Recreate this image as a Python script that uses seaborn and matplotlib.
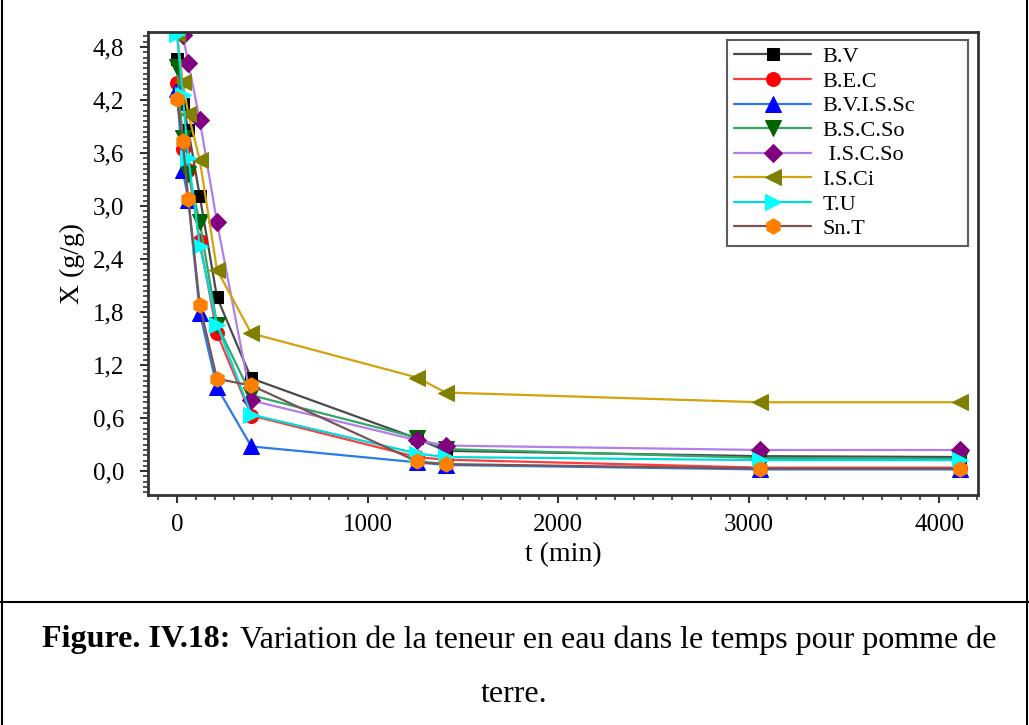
import matplotlib
matplotlib.use("Agg")
import matplotlib.pyplot as plt
from matplotlib.lines import Line2D
from matplotlib.ticker import MultipleLocator, FuncFormatter
import pandas as pd
import seaborn as sns

# drying times (min)
t_all = [0, 30, 60, 120, 210, 390, 1260, 1410, 3060, 4110]
t_iscso = [30, 60, 120, 210, 390, 1260, 1410, 3060, 4110]

bv = [4.66, 4.16, 3.86, 3.11, 1.97, 1.05, 0.37, 0.23, 0.17, 0.16]
bec = [4.39, 3.65, 3.41, 2.60, 1.56, 0.63, 0.16, 0.13, 0.04, 0.04]
bvissc = [4.33, 3.41, 3.07, 1.79, 0.95, 0.28, 0.10, 0.07, 0.02, 0.02]
bscso = [4.58, 3.77, 3.36, 2.82, 1.66, 0.86, 0.38, 0.25, 0.15, 0.14]
iscso = [4.94, 4.62, 3.97, 2.82, 0.80, 0.35, 0.29, 0.24, 0.24]
isci = [4.95, 4.41, 4.04, 3.52, 2.28, 1.56, 1.06, 0.89, 0.78, 0.78]
tu = [4.95, 4.26, 3.54, 2.55, 1.66, 0.64, 0.20, 0.16, 0.125, 0.125]
snt = [4.21, 3.74, 3.08, 1.88, 1.045, 0.97, 0.11, 0.08, 0.03, 0.03]

labels = ["B.V", "B.E.C", "B.V.I.S.Sc", "B.S.C.So", " I.S.C.So", "I.S.Ci", "T.U", "Sn.T"]
times = [t_all, t_all, t_all, t_all, t_iscso, t_all, t_all, t_all]
values = [bv, bec, bvissc, bscso, iscso, isci, tu, snt]

line_colors = ["#4a4a4a", "#ff3b3b", "#2a7be4", "#2fa866", "#b27ee8", "#d4a20a", "#00dada", "#7a5454"]
mark_colors = ["#000000", "#ff0000", "#0000ff", "#006400", "#800080", "#808000", "#00ffff", "#ff8000"]
markers = ["s", "o", "^", "v", "D", "<", ">", "h"]
msizes = [9, 10, 11, 11, 9, 11, 11, 11]

sns.set_theme(style="ticks")
plt.rcParams["font.family"] = ["Liberation Serif", "DejaVu Serif"]
plt.rcParams["text.color"] = "black"
plt.rcParams["axes.labelcolor"] = "black"

fig = plt.figure(figsize=(10.29, 7.25), dpi=100)
ax = fig.add_axes([0.1438, 0.3172, 0.8066, 0.6386])

for lab, tt, vv, lc, mc, mk, ms in zip(labels, times, values, line_colors,
                                       mark_colors, markers, msizes):
    df = pd.DataFrame({"t": tt, "X": vv})
    sns.lineplot(data=df, x="t", y="X", ax=ax, sort=False, color=lc,
                 linewidth=1.6, marker=mk, markersize=ms,
                 markerfacecolor=mc, markeredgecolor=mc, label=lab)

ax.set_xlim(-152, 4203)
ax.set_ylim(-0.27, 4.97)
ax.xaxis.set_major_locator(MultipleLocator(1000))
ax.xaxis.set_minor_locator(MultipleLocator(100))
ax.yaxis.set_major_locator(MultipleLocator(0.6))
ax.yaxis.set_minor_locator(MultipleLocator(0.06))
ax.yaxis.set_major_formatter(FuncFormatter(lambda v, p: f"{v:.1f}".replace(".", ",").replace("-0,0", "0,0")))

for s in ax.spines.values():
    s.set_color("#333333")
    s.set_linewidth(2)
ax.tick_params(axis="both", which="major", direction="out", length=6, width=1.5,
               colors="#333333", labelcolor="black", labelsize=18)
ax.tick_params(axis="both", which="minor", direction="out", length=3.5, width=1.2,
               colors="#333333")
ax.tick_params(axis="x", pad=8)
ax.tick_params(axis="y", pad=11)

ax.set_xlabel("t (min)", fontsize=20, labelpad=4)
ax.set_ylabel("X (g/g)", fontsize=20, labelpad=6)

leg = ax.legend(loc="upper left", bbox_to_anchor=(0.6976, 0.4, 0.2904, 0.5827),
                mode="expand", fontsize=16, frameon=True, fancybox=False,
                handlelength=3.5, labelspacing=0.18, borderpad=0.3,
                handletextpad=0.5, borderaxespad=0)
leg.get_frame().set_edgecolor("#333333")
leg.get_frame().set_linewidth(1.5)

# caption cell
fig.text(42 / 1029, 1 - 640 / 725, "Figure. IV.18:", fontsize=23, fontweight="bold",
         ha="left", va="center")
fig.text(240 / 1029, 1 - 640 / 725, "Variation de la teneur en eau dans le temps pour pomme de",
         fontsize=23, ha="left", va="center")
fig.text(0.5, 1 - 695 / 725, "terre.", fontsize=23, ha="center", va="center")

# table borders around the figure
fig.add_artist(Line2D([0.002, 0.002], [0, 1], color="black", lw=1.5, transform=fig.transFigure))
fig.add_artist(Line2D([0.998, 0.998], [0, 1], color="black", lw=1.5, transform=fig.transFigure))
fig.add_artist(Line2D([0, 1], [1 - 602 / 725] * 2, color="black", lw=1.5, transform=fig.transFigure))

plt.savefig("out.png", dpi=100)
plt.close()
